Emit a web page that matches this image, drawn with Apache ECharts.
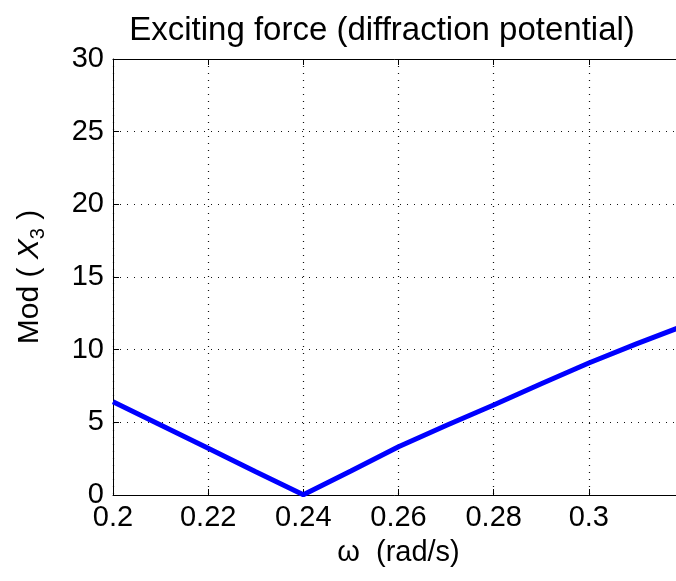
<!DOCTYPE html>
<html>
<head>
<meta charset="utf-8">
<script src="https://cdn.jsdelivr.net/npm/echarts@6/dist/echarts.min.js"></script>
<style>
  html, body { margin: 0; padding: 0; background: #fff; }
  #chart { width: 676px; height: 581px; }
</style>
</head>
<body>
<div id="chart"></div>
<script>
// Frequency samples (rad/s) and modulus of the heave exciting force
const omega = [0.20, 0.21, 0.22, 0.23, 0.24, 0.25, 0.26, 0.27, 0.28, 0.29, 0.30, 0.31, 0.32];
const modX3 = [6.42, 4.82, 3.21, 1.60, 0.02, 1.65, 3.32, 4.78, 6.19, 7.65, 9.08, 10.40, 11.65];

const xTicks = { min: 0.2, max: 0.32, step: 0.02 };
const yTicks = { min: 0, max: 30, step: 5 };

const titleText = 'Exciting force (diffraction potential)';
const xName = 'ω  (rad/s)';

const font = '"Liberation Sans", Arial, Helvetica, sans-serif';
const dotted = { color: '#111', width: 1.2, type: [1, 6] };

const chart = echarts.init(document.getElementById('chart'), null, { renderer: 'canvas' });

chart.setOption({
  backgroundColor: '#fff',
  animation: false,
  title: {
    text: titleText,
    left: 377,
    top: 9,
    textAlign: 'center',
    textStyle: { fontFamily: font, fontSize: 33, fontWeight: 'normal', color: '#000' }
  },
  // the axes box runs slightly past the right edge of the page
  grid: { left: 113, top: 59, bottom: 86, width: 571, containLabel: false, outerBoundsMode: 'none' },
  xAxis: [
    {
      type: 'value',
      position: 'bottom',
      min: xTicks.min, max: xTicks.max, interval: xTicks.step,
      name: xName,
      nameLocation: 'middle',
      nameGap: 43,
      nameTextStyle: { fontFamily: font, fontSize: 29, color: '#000' },
      axisLine: { show: true, onZero: false, lineStyle: { color: '#000', width: 1 } },
      axisTick: { show: true, inside: true, length: 6, lineStyle: { color: '#000' } },
      axisLabel: {
        margin: 8, fontFamily: font, fontSize: 29, color: '#000', showMaxLabel: false,
        formatter: v => String(+v.toFixed(2))
      },
      splitLine: { show: true, lineStyle: dotted }
    },
    {
      type: 'value',
      position: 'top',
      min: xTicks.min, max: xTicks.max, interval: xTicks.step,
      axisLine: { show: true, onZero: false, lineStyle: { color: '#000', width: 1 } },
      axisTick: { show: true, inside: true, length: 6, lineStyle: { color: '#000' } },
      axisLabel: { show: false },
      splitLine: { show: false }
    }
  ],
  yAxis: [
    {
      type: 'value',
      position: 'left',
      min: yTicks.min, max: yTicks.max, interval: yTicks.step,
      name: 'Mod ( {i|X}{sub|3} )',
      nameLocation: 'middle',
      nameGap: 83,
      nameTextStyle: {
        fontFamily: font, fontSize: 30, color: '#000', verticalAlign: 'middle',
        rich: {
          i: { fontFamily: font, fontSize: 30, fontStyle: 'italic', color: '#000', lineHeight: 36, verticalAlign: 'middle' },
          sub: { fontFamily: font, fontSize: 20, color: '#000', lineHeight: 20, verticalAlign: 'bottom' }
        }
      },
      axisLine: { show: true, onZero: false, lineStyle: { color: '#000', width: 1 } },
      axisTick: { show: true, inside: true, length: 6, lineStyle: { color: '#000' } },
      axisLabel: { margin: 9, fontFamily: font, fontSize: 29, color: '#000' },
      splitLine: { show: true, lineStyle: dotted }
    }
  ],
  series: [
    {
      type: 'line',
      data: omega.map((w, i) => [w, modX3[i]]),
      showSymbol: false,
      smooth: false,
      lineStyle: { color: '#0000ff', width: 5 },
      itemStyle: { color: '#0000ff' }
    }
  ]
});
</script>
</body>
</html>
